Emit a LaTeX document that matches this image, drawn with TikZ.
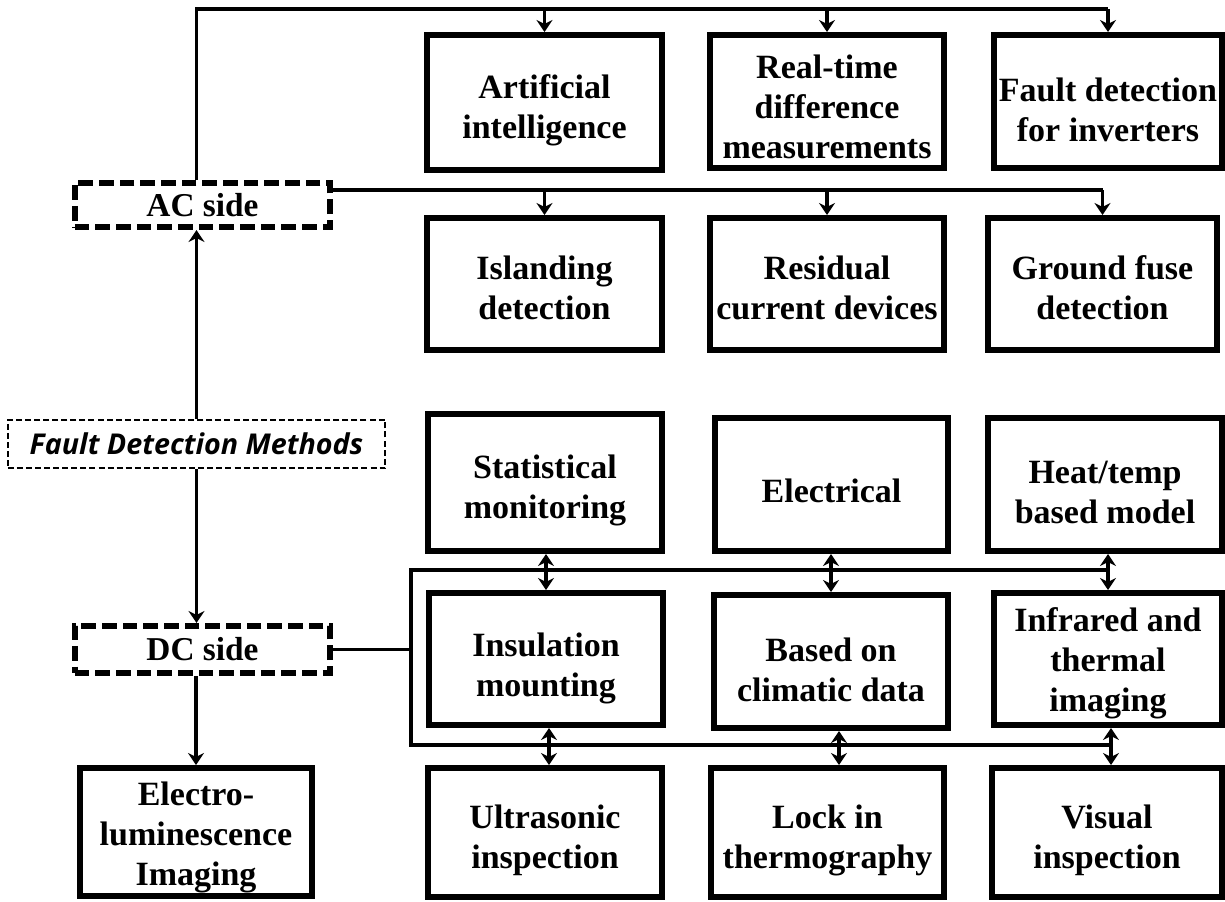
\documentclass[tikz,border=0pt]{standalone}
\usepackage{fontspec}
\setmainfont{Liberation Serif}
\newfontfamily\fdmfont{Open Sans}
\usetikzlibrary{arrows.meta,calc}
\tikzset{
  box/.style={draw, line width=4.5pt, inner sep=0pt},
  boxtext/.style={align=center, inner sep=0pt,
    font=\bfseries\fontsize{25.5}{30}\selectfont},
  sidebox/.style={draw, line width=4.2pt, dash pattern=on 11pt off 4.5pt, align=center, inner sep=0pt,
    font=\bfseries\fontsize{25}{31}\selectfont},
  fdmbox/.style={draw, line width=1.3pt, dash pattern=on 4.5pt off 2.3pt, align=center, inner sep=0pt,
    font=\fdmfont\bfseries\itshape\fontsize{21.5}{24}\selectfont},
  conn/.style={line width=2.3pt},
  tip/.tip={Stealth[length=9pt,width=12pt,inset=3pt]},
  arr/.style={conn, -tip},
  darr/.style={conn, tip-tip}
}
% name, x1, y1, x2, y2, text, text shift (px, downwards)
\newcommand{\mkbox}[7]{%
  \node[box, minimum width={(#4-#2-6)*0.75pt}, minimum height={(#5-#3-6)*0.75pt}] (#1) at ({(#2+#4)/2},{(#3+#5)/2}) {};
  \node[boxtext] (#1-t) at ([yshift={-#7*0.75pt}]#1.center) {#6};}
% name, x1, y1, x2, y2, line width px, style, text
\newcommand{\mkside}[8]{\node[#7, minimum width={(#4-#2-#6)*0.75pt}, minimum height={(#5-#3-#6)*0.75pt}] (#1) at ({(#2+#4)/2},{(#3+#5)/2}) {#8};}
\begin{document}
\begin{tikzpicture}[x=0.75pt,y=-0.75pt]
\useasboundingbox (0,0) rectangle (1225,901);
% AC rows
\mkbox{ai}{424}{32}{665}{173}{Artificial\\intelligence}{8}
\mkbox{rt}{707}{32}{947}{171}{Real-time\\difference\\measurements}{5}
\mkbox{fdi}{991}{32}{1225}{171}{Fault detection\\for inverters}{8}
\mkbox{isl}{424}{215}{665}{353}{Islanding\\detection}{4}
\mkbox{rcd}{707}{215}{947}{353}{Residual\\current devices}{4}
\mkbox{gfd}{985}{215}{1220}{353}{Ground fuse\\detection}{4}
% DC rows
\mkbox{stat}{425}{411}{665}{554}{Statistical\\monitoring}{8}
\mkbox{elec}{712}{415}{951}{554}{Electrical}{6}
\mkbox{heat}{985}{415}{1225}{554}{Heat/temp\\based model}{8}
\mkbox{ins}{426}{590}{666}{728}{Insulation\\mounting}{9}
\mkbox{clim}{711}{592}{951}{731}{Based on\\climatic data}{8}
\mkbox{ir}{991}{590}{1225}{728}{Infrared and\\thermal\\imaging}{4}
\mkbox{ult}{425}{765}{665}{900}{Ultrasonic\\inspection}{8}
\mkbox{lock}{708}{765}{947}{900}{Lock in\\thermography}{8}
\mkbox{vis}{989}{765}{1225}{900}{Visual\\inspection}{8}
\mkbox{el}{77}{765}{315}{899}{Electro-\\luminescence\\Imaging}{5}
% left column
\mkside{ac}{72}{180}{333}{230}{5.5}{sidebox}{AC side}
\mkside{dc}{72}{623}{333}{676}{5.5}{sidebox}{DC side}
\mkside{fdm}{7}{419}{386}{469}{1.7}{fdmbox}{Fault Detection Methods}
% helper levels
\coordinate (top) at (0,9);
\coordinate (aclev) at (0,190);
\coordinate (bl) at (411,570);
\coordinate (bb) at (411,745);
% FDM connections
\draw[arr] (fdm.north) -- (fdm.north |- ac.south);
\draw[arr] (fdm.south) -- (fdm.south |- dc.north);
\draw[arr] (el.north |- dc.south) -- (el.north);
% top bus
\draw[conn] (fdm.north |- ac.north) -- (fdm.north |- top) -- (fdi.north |- top);
\draw[arr] (ai.north |- top) -- (ai.north);
\draw[arr] (rt.north |- top) -- (rt.north);
\draw[arr] (fdi.north |- top) -- (fdi.north);
% AC second bus
\draw[conn] (ac.east |- aclev) -- (gfd.north |- aclev);
\draw[arr] (isl.north |- aclev) -- (isl.north);
\draw[arr] (rcd.north |- aclev) -- (rcd.north);
\draw[arr] (gfd.north |- aclev) -- (gfd.north);
% DC bus
\draw[conn] (dc.east) -- (bl |- dc.east);
\draw[conn] (ir.north |- bl) -- (bl) -- (bb) -- ([xshift=3pt]vis.north |- bb);
\draw[darr] (ins.north |- stat.south) -- (ins.north);
\draw[darr] (clim.north |- elec.south) -- (clim.north);
\draw[darr] (ir.north |- heat.south) -- (ir.north);
\draw[darr] ([xshift=3pt]ult.north |- ins.south) -- ([xshift=3pt]ult.north);
\draw[darr] ([xshift=6pt]clim.south) -- ([xshift=6pt]clim.south |- lock.north);
\draw[darr] ([xshift=3pt]vis.north |- ir.south) -- ([xshift=3pt]vis.north);
\end{tikzpicture}
\end{document}
